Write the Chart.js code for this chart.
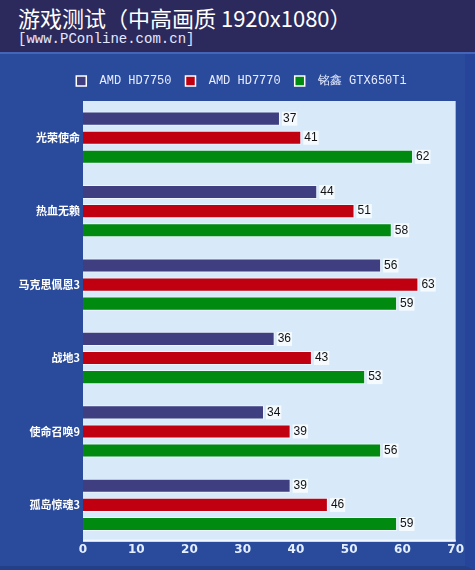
<!DOCTYPE html>
<html>
<head>
<meta charset="utf-8">
<script src="https://cdn.jsdelivr.net/npm/chart.js@4/dist/chart.umd.min.js"></script>
<style>
  html, body { margin: 0; padding: 0; }
  body { width: 475px; height: 570px; background: #2a4b9c; overflow: hidden; }
  #head { height: 52px; background: #2c2a5c; border-bottom: 2px solid #4565bb; position: relative; }
  #title { position: absolute; left: 18px; top: 3px; color: #fff; font: 22px "Noto Sans CJK SC", sans-serif; line-height: 28px; }
  #sub { position: absolute; left: 18px; top: 31px; color: #e6e8ff; font: 14px "Liberation Mono", monospace; line-height: 16px; }
  #panel { position: relative; width: 465px; height: 512px; background: #2a4b9c; border-right: 10px solid #26449a; border-bottom: 4px solid #233f88; }
</style>
</head>
<body>
<div id="head">
  <div id="title">游戏测试（中高画质 1920x1080）</div>
  <div id="sub">[www.PConline.com.cn]</div>
</div>
<div id="panel"><canvas id="c"></canvas></div>
<script>
const NAVY = "#3f3e80", RED = "#c00010", GREEN = "#008a10";
const PLOT_BG = "#d8eafa", TICK = "#e4efff";

const games = ["光荣使命", "热血无赖", "马克思佩恩3", "战地3", "使命召唤9", "孤岛惊魂3"];
const cards = ["AMD HD7750", "AMD HD7770", "铭鑫 GTX650Ti"];
const hd7750 = [37, 44, 56, 36, 34, 39];
const hd7770 = [41, 51, 63, 43, 39, 46];
const gtx650ti = [62, 58, 59, 53, 56, 59];
const xTicks = [0, 10, 20, 30, 40, 50, 60, 70];

const plotBg = {
    id: "plotBg",
    afterLayout(chart) {
        // legend sits a bit right of the canvas centre and slightly higher
        const lg = chart.legend;
        lg.left += 13; lg.right += 13;
        lg.top -= 4; lg.bottom -= 4;
    },
    beforeDraw(chart) {
        const {ctx, chartArea: a} = chart;
        ctx.save();
        ctx.fillStyle = PLOT_BG;
        ctx.fillRect(a.left, a.top, a.right - a.left, a.bottom - a.top);
        ctx.fillStyle = "#f2f8ff";
        ctx.fillRect(a.left, a.bottom - 2, a.right - a.left, 2);
        ctx.restore();
    }
};

const valueLabels = {
    id: "valueLabels",
    afterDatasetsDraw(chart) {
        const ctx = chart.ctx;
        ctx.save();
        ctx.font = "12px 'Liberation Sans', sans-serif";
        ctx.textBaseline = "middle";
        chart.data.datasets.forEach((ds, i) => {
            chart.getDatasetMeta(i).data.forEach((bar, j) => {
                const t = String(ds.data[j]);
                const x = bar.x + 3, y = bar.y;
                const w = ctx.measureText(t).width;
                ctx.fillStyle = "rgba(255,255,255,0.75)";
                ctx.fillRect(x - 1, y - 7, w + 2, 14);
                ctx.fillStyle = "#111";
                ctx.fillText(t, x, y);
            });
        });
        ctx.restore();
    }
};

const colors = [NAVY, RED, GREEN];
new Chart(document.getElementById("c"), {
    type: "bar",
    data: {
        labels: games,
        datasets: [hd7750, hd7770, gtx650ti].map((d, i) => ({
            label: cards[i],
            data: d,
            backgroundColor: colors[i],
            borderColor: "rgba(255,255,255,0.55)",
            borderWidth: 1,
            borderSkipped: "start",
            categoryPercentage: 0.78,
            barPercentage: 0.74
        }))
    },
    options: {
        indexAxis: "y",
        responsive: true,
        maintainAspectRatio: false,
        animation: false,
        layout: {padding: {top: 11, right: 8, bottom: 8, left: 0}},
        plugins: {
            tooltip: {enabled: false},
            legend: {
                position: "top",
                labels: {
                    color: "#e8ecff",
                    font: {family: "'Liberation Mono', monospace", size: 12},
                    boxWidth: 10,
                    boxHeight: 10,
                    padding: 14,
                    generateLabels: (chart) => chart.data.datasets.map((ds, i) => ({
                        text: " " + ds.label,
                        fillStyle: ds.backgroundColor,
                        strokeStyle: "#ffffff",
                        lineWidth: 1.5,
                        fontColor: "#e8ecff",
                        datasetIndex: i
                    }))
                }
            }
        },
        scales: {
            x: {
                min: 0, max: 70,
                afterBuildTicks: (s) => { s.ticks = xTicks.map(v => ({value: v})); },
                grid: {display: false, drawTicks: false, tickLength: 0},
                border: {display: false},
                ticks: {color: TICK, padding: 1, font: {family: "'DejaVu Sans', sans-serif", size: 12, weight: "bold"}}
            },
            y: {
                afterFit: (s) => { s.width = 83; },
                grid: {display: false, drawTicks: false, tickLength: 0},
                border: {display: false},
                ticks: {color: "#ffffff", padding: 3, font: {family: "'Noto Sans CJK SC', sans-serif", size: 11, weight: "bold"}}
            }
        }
    },
    plugins: [plotBg, valueLabels]
});
</script>
</body>
</html>
